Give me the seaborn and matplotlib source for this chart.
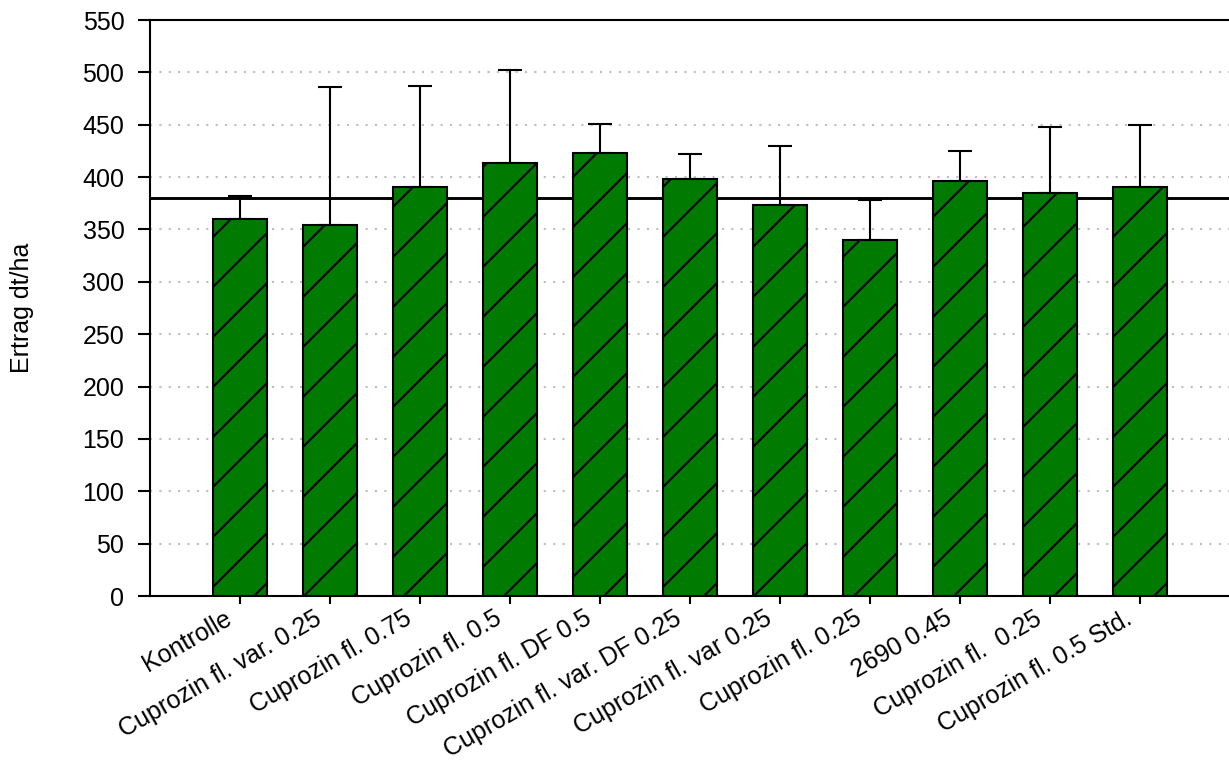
"""
Ertrag je Variante als Balkendiagramm mit einseitigen Fehlerbalken.
"""
import matplotlib
matplotlib.use("Agg")
import matplotlib.pyplot as plt
import matplotlib.transforms as mtransforms
import numpy as np
import pandas as pd
import seaborn as sns


VARIANTEN = [
    "Kontrolle", "Cuprozin fl. var. 0.25", "Cuprozin fl. 0.75", "Cuprozin fl. 0.5",
    "Cuprozin fl. DF 0.5", "Cuprozin fl. var. DF 0.25", "Cuprozin fl. var 0.25",
    "Cuprozin fl. 0.25", "2690 0.45", "Cuprozin fl.  0.25", "Cuprozin fl. 0.5 Std.",
]
ERTRAG = [360, 354, 391, 413, 423, 398, 373, 340, 396, 385, 391]
ERTRAG_OBEN = [382, 486, 487, 502, 451, 422, 430, 378, 425, 448, 450]
REFERENZ = 380
Y_TICKS = list(range(0, 551, 50))

DPI = 150
GRUEN = "#007A00"


def _setup_plot():
    sns.set_theme(style="ticks")
    plt.rcParams["font.family"] = ["Liberation Sans", "DejaVu Sans"]
    plt.rcParams["hatch.color"] = "black"
    plt.rcParams["hatch.linewidth"] = 1.0


def main():
    _setup_plot()
    df = pd.DataFrame({"variante": VARIANTEN, "ertrag": ERTRAG, "oben": ERTRAG_OBEN})
    df["fehler"] = df["oben"] - df["ertrag"]

    fig = plt.figure(figsize=(1229 / DPI, 764 / DPI), dpi=DPI)
    ax = fig.add_axes([150 / 1229, 1 - 596 / 764, 1 - 150 / 1229, 576 / 764])

    sns.barplot(data=df, x="variante", y="ertrag", color=GRUEN, saturation=1,
                width=0.6, edgecolor="black", linewidth=1.0, errorbar=None,
                ax=ax, zorder=3)
    for bar in ax.patches:
        bar.set_hatch("/")

    pos = np.arange(len(df))
    ax.errorbar(pos, df["ertrag"], yerr=[np.zeros(len(df)), df["fehler"]],
                fmt="none", ecolor="black", elinewidth=1.0, capsize=5.8,
                capthick=1.0, zorder=4)

    ax.axhline(REFERENZ, color="black", linewidth=1.4, zorder=2)

    ax.set_ylim(0, 550)
    ax.set_xlim(-1, 10.99)
    ax.set_yticks(Y_TICKS)
    ax.yaxis.grid(True, color="#BDBDBD", linewidth=1.0, linestyle=(0, (1, 3.5)), zorder=1)
    ax.xaxis.grid(False)
    ax.set_axisbelow(True)

    for side in ["left", "bottom", "top"]:
        ax.spines[side].set_linewidth(1.0)
        ax.spines[side].set_color("black")
    ax.spines["right"].set_visible(False)

    ax.tick_params(axis="y", length=5.8, width=1.0, pad=6.5, labelsize=12, colors="black")
    ax.tick_params(axis="x", length=3.9, width=1.0, pad=1, labelsize=12, colors="black")

    ax.set_xticks(pos)
    ax.set_xticklabels(VARIANTEN, rotation=30, ha="right", va="top", rotation_mode="anchor")
    shift = mtransforms.ScaledTranslation(-16 / DPI, 0, fig.dpi_scale_trans)
    for label in ax.get_xticklabels():
        label.set_transform(label.get_transform() + shift)

    ax.set_xlabel("")
    ax.set_ylabel("Ertrag dt/ha", fontsize=12, color="black")
    ax.yaxis.set_label_coords(-0.1075, 0.5)

    fig.savefig("out.png", dpi=DPI)
    plt.close(fig)


if __name__ == "__main__":
    main()
